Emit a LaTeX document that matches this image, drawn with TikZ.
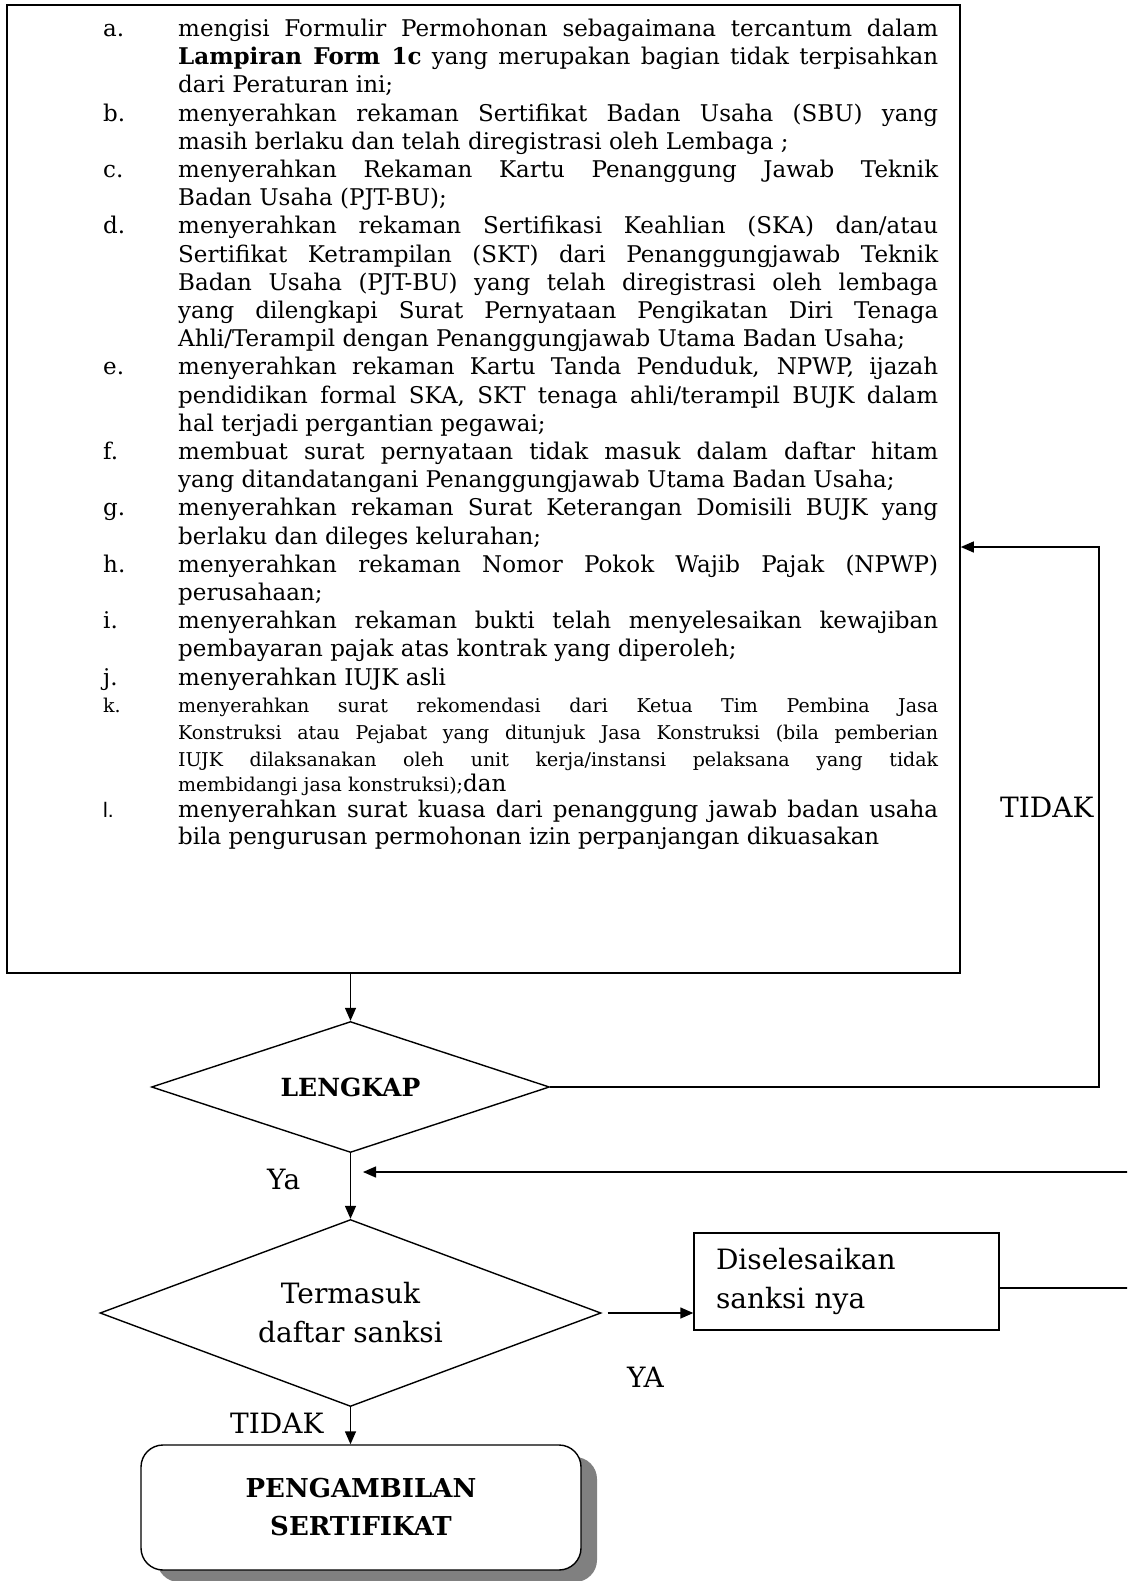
\documentclass[tikz,border=0pt]{standalone}
\usepackage{fontspec}
\setmainfont{DejaVu Serif}
\newfontfamily\lsans{Liberation Sans}
\usetikzlibrary{arrows.meta,shapes.geometric,shadows}
\newcommand{\jline}[1]{\makebox[760pt][s]{#1}}
\begin{document}
\begin{tikzpicture}[x=1pt,y=-1pt,
  arr/.style={-{Triangle[length=13pt,width=11pt]}, line width=1.4pt},
  ln/.style={line width=1.4pt},
  maintxt/.style={anchor=base west, inner sep=0pt, font=\fontsize{23}{28}\selectfont},
  smalltxt/.style={anchor=base west, inner sep=0pt, font=\fontsize{19}{24}\selectfont},
  lbl/.style={anchor=base west, inner sep=0pt, font=\fontsize{28}{34}\selectfont},
  dia/.style={diamond, draw, line width=1.4pt, inner sep=0pt, align=center}]
\useasboundingbox (0,0) rectangle (1127,1581);
\clip (0,0) rectangle (1127,1581);
\fill[white] (0,0) rectangle (1127,1581);

% main box
\node[draw, line width=1.6pt, minimum width=953pt, minimum height=968pt, inner sep=0pt] (box) at (483.5,489) {};

% labels
\node[maintxt] (la) at (103,36.5) {a.};
\node[maintxt] (lb) at (103,121.1) {b.};
\node[maintxt] (lc) at (103,177.5) {c.};
\node[maintxt] (ld) at (103,233.9) {d.};
\node[maintxt] (le) at (103,374.9) {e.};
\node[maintxt] (lf) at (103,459.5) {f.};
\node[maintxt] (lg) at (103,515.9) {g.};
\node[maintxt] (lh) at (103,572.3) {h.};
\node[maintxt] (li) at (103,628.7) {i.};
\node[maintxt] (lj) at (103,685.1) {j.};
\node[smalltxt] (lk0) at (103,712) {k.};
\node[maintxt, font=\lsans\fontsize{21}{26}\selectfont] (ll) at (103,817) {l.};

% text lines
\node[maintxt] (t0) at (178,36.5) {\jline{mengisi Formulir Permohonan sebagaimana tercantum dalam}};
\node[maintxt] (t1) at (178,64.7) {\jline{\textbf{Lampiran Form 1c} yang merupakan bagian tidak terpisahkan}};
\node[maintxt] (t2) at (178,92.9) {dari Peraturan ini;};
\node[maintxt] (t3) at (178,121.1) {\jline{menyerahkan rekaman Sertifikat Badan Usaha (SBU) yang}};
\node[maintxt] (t4) at (178,149.3) {masih berlaku dan telah diregistrasi oleh Lembaga ;};
\node[maintxt] (t5) at (178,177.5) {\jline{menyerahkan Rekaman Kartu Penanggung Jawab Teknik}};
\node[maintxt] (t6) at (178,205.7) {Badan Usaha (PJT-BU);};
\node[maintxt] (t7) at (178,233.9) {\jline{menyerahkan rekaman Sertifikasi Keahlian (SKA) dan/atau}};
\node[maintxt] (t8) at (178,262.1) {\jline{Sertifikat Ketrampilan (SKT) dari Penanggungjawab Teknik}};
\node[maintxt] (t9) at (178,290.3) {\jline{Badan Usaha (PJT-BU) yang telah diregistrasi oleh lembaga}};
\node[maintxt] (t10) at (178,318.5) {\jline{yang dilengkapi Surat Pernyataan Pengikatan Diri Tenaga}};
\node[maintxt] (t11) at (178,346.7) {Ahli/Terampil dengan Penanggungjawab Utama Badan Usaha;};
\node[maintxt] (t12) at (178,374.9) {\jline{menyerahkan rekaman Kartu Tanda Penduduk, NPWP, ijazah}};
\node[maintxt] (t13) at (178,403.1) {\jline{pendidikan formal SKA, SKT tenaga ahli/terampil BUJK dalam}};
\node[maintxt] (t14) at (178,431.3) {hal terjadi pergantian pegawai;};
\node[maintxt] (t15) at (178,459.5) {\jline{membuat surat pernyataan tidak masuk dalam daftar hitam}};
\node[maintxt] (t16) at (178,487.7) {yang ditandatangani Penanggungjawab Utama Badan Usaha;};
\node[maintxt] (t17) at (178,515.9) {\jline{menyerahkan rekaman Surat Keterangan Domisili BUJK yang}};
\node[maintxt] (t18) at (178,544.1) {berlaku dan dileges kelurahan;};
\node[maintxt] (t19) at (178,572.3) {\jline{menyerahkan rekaman Nomor Pokok Wajib Pajak (NPWP)}};
\node[maintxt] (t20) at (178,600.5) {perusahaan;};
\node[maintxt] (t21) at (178,628.7) {\jline{menyerahkan rekaman bukti telah menyelesaikan kewajiban}};
\node[maintxt] (t22) at (178,656.9) {pembayaran pajak atas kontrak yang diperoleh;};
\node[maintxt] (t23) at (178,685.1) {menyerahkan IUJK asli};
\node[smalltxt] (t24) at (178,712) {\jline{menyerahkan surat rekomendasi dari Ketua Tim Pembina Jasa}};
\node[smalltxt] (t25) at (178,739) {\jline{Konstruksi atau Pejabat yang ditunjuk Jasa Konstruksi (bila pemberian}};
\node[smalltxt] (t26) at (178,766) {\jline{IUJK dilaksanakan oleh unit kerja/instansi pelaksana yang tidak}};
\node[smalltxt] (t27) at (178,791) {membidangi jasa konstruksi);{\fontsize{23}{28}\selectfont dan}};
\node[maintxt] (t28) at (178,817) {\jline{menyerahkan surat kuasa dari penanggung jawab badan usaha}};
\node[maintxt] (t29) at (178,844) {bila pengurusan permohonan izin perpanjangan dikuasakan};

% flow nodes
\node[dia, minimum width=398pt, minimum height=131pt, aspect=3.04, font=\bfseries\fontsize{25}{30}\selectfont] (lk) at (350.5,1087) {LENGKAP};
\node[dia, minimum width=501pt, minimum height=187pt, aspect=2.68, font=\fontsize{28}{39}\selectfont] (sk) at (350.5,1313) {Termasuk\\daftar sanksi};
\node[draw, ln, inner xsep=22pt, inner ysep=0pt, minimum height=97pt, text width=261pt, align=left, font=\fontsize{28}{39}\selectfont] (ds) at (846.5,1281.5) {Diselesaikan\\sanksi nya};
\node[draw, ln, rounded corners=22pt, minimum width=440pt, minimum height=125pt, align=center, fill=white, font=\bfseries\fontsize{26}{38}\selectfont, drop shadow={shadow xshift=16pt, shadow yshift=-12pt, fill=black!50, opacity=1}] (pa) at (361,1507.5) {PENGAMBILAN\\SERTIFIKAT};

% connectors
\coordinate (tr) at (1099,547);
\coordinate (ry) at (0,1288);
\coordinate (rr) at (1145,1172);
\coordinate (yt) at (363,1172);
\draw[arr] (lk.north |- box.south) -- (lk.north);
\draw[arr] (lk.east) -| (tr) -- (box.east |- tr);
\draw[arr] (lk.south) -- (sk.north);
\draw[arr] (ds.east |- ry) -| (rr) -- (yt);
\draw[arr] (sk.east) ++(6,0) -- (ds.west |- sk.east);
\draw[arr] (sk.south) -- (sk.south |- pa.north);

% connector labels
\node[lbl] (tidak1) at (1000,817) {TIDAK};
\node[lbl] (ya1) at (267,1189) {Ya};
\node[lbl] (ya2) at (627,1387) {YA};
\node[lbl] (tidak2) at (230,1433) {TIDAK};
\end{tikzpicture}
\end{document}
